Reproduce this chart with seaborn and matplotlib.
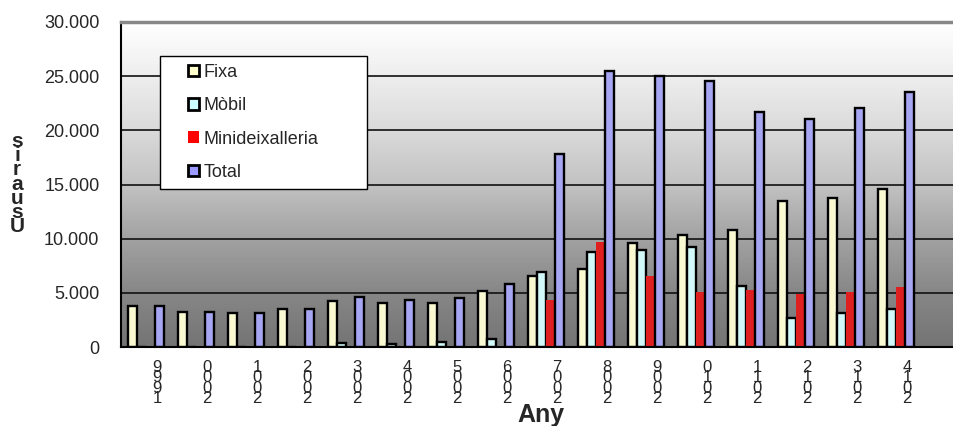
import numpy as np
import pandas as pd
import matplotlib
matplotlib.use("Agg")
import matplotlib.pyplot as plt
import seaborn as sns
from matplotlib.colors import LinearSegmentedColormap
from matplotlib.patches import Patch, Rectangle
from matplotlib.ticker import FuncFormatter

# Data (users per year)
years = [str(y) for y in range(1999, 2015)]
fixa = [3750, 3200, 3100, 3550, 4250, 4100, 4100, 5150, 6600, 7200, 9600, 10300, 10800, 13500, 13800, 14600]
mobil = [0, 0, 0, 0, 400, 250, 450, 700, 6900, 8750, 9000, 9200, 5600, 2700, 3100, 3500]
minideix = [0, 0, 0, 0, 0, 0, 0, 0, 4300, 9700, 6550, 5050, 5250, 4900, 5100, 5500]
total = [3750, 3200, 3100, 3550, 4650, 4300, 4550, 5800, 17800, 25500, 25000, 24550, 21700, 21050, 22050, 23500]

series = ["Fixa", "Mòbil", "Minideixalleria", "Total"]
colors = ["#FFFFCC", "#CCFFFF", "#FF0000", "#9999FF"]

df = pd.DataFrame({"Any": years, "Fixa": fixa, "Mòbil": mobil,
                   "Minideixalleria": minideix, "Total": total})
long_df = df.melt(id_vars="Any", var_name="Serie", value_name="Usuaris")

sns.set_style("white")
plt.rcParams["font.family"] = ["Liberation Sans", "DejaVu Sans"]

fig = plt.figure(figsize=(9.54, 4.26), dpi=100)
ax = fig.add_axes([121 / 954, 1 - 347 / 426, (954 - 121) / 954, (347 - 22) / 426])

sns.barplot(data=long_df, x="Any", y="Usuaris", hue="Serie", order=years,
            hue_order=series, palette=colors, width=0.72, errorbar=None,
            edgecolor="black", linewidth=1.7, legend=False, ax=ax)

# red bars have no outline
for patch in ax.containers[2]:
    patch.set_edgecolor("none")

x_right = (954 - 121) / 50 - 0.5
ax.set_xlim(-0.5, x_right)
ax.set_ylim(0, 30000)

# grey gradient background (dark at the bottom, white at the top)
bg = LinearSegmentedColormap.from_list(
    "bg", [(0.0, "#747474"), (1 / 6, "#878787"), (2 / 6, "#a2a2a2"),
           (3 / 6, "#c2c2c2"), (4 / 6, "#dadada"), (5 / 6, "#eeeeee"), (1.0, "#ffffff")])
ax.imshow(np.linspace(0, 1, 256).reshape(-1, 1), cmap=bg, origin="lower",
          extent=[-0.5, x_right, 0, 30000], aspect="auto", zorder=0)

ax.set_axisbelow(True)
ax.yaxis.grid(True, color="#111111", linewidth=1.2)
ax.set_yticks(range(0, 30001, 5000))
ax.yaxis.set_major_formatter(FuncFormatter(lambda v, p: f"{int(v):,}".replace(",", ".")))

ax.set_xticks(np.arange(-0.5, 16, 1))
ax.set_xticklabels([])
ax.set_xticks(np.arange(16) + 0.22, minor=True)
ax.set_xticklabels(["\n".join(reversed(y)) for y in years], minor=True,
                   linespacing=0.63, va="top", fontsize=12)
ax.tick_params(axis="x", which="major", direction="out", length=6, width=1, color="black")
ax.tick_params(axis="x", which="minor", length=0, pad=9)
ax.tick_params(axis="y", direction="inout", length=7, width=1.2, color="black",
               labelsize=13, pad=12)

for s in ["left", "bottom"]:
    ax.spines[s].set_color("black")
    ax.spines[s].set_linewidth(1.5)
ax.spines["top"].set_color("#888888")
ax.spines["top"].set_linewidth(2.5)
ax.spines["right"].set_visible(False)

ax.set_xlabel("")
ax.set_ylabel("")
fig.text(541 / 954, 1 - 415 / 426, "Any", ha="center", va="center",
         fontsize=18, fontweight="bold")
fig.text(17 / 954, 1 - 184 / 426, "\n".join(reversed("Usuaris")), ha="center",
         va="center", fontsize=15, fontweight="bold", linespacing=0.68)

# legend box
fig.patches.append(Rectangle((160 / 954, 1 - 189 / 426), 207 / 954, 133 / 426,
                             transform=fig.transFigure, facecolor="white",
                             edgecolor="black", linewidth=1, zorder=3))
handles = [Patch(facecolor=c, edgecolor="black" if c != "#FF0000" else "none", linewidth=2)
           for c in colors]
fig.legend(handles, series, loc="upper left", bbox_to_anchor=(188 / 954, 1 - 64 / 426),
           frameon=False, borderpad=0, borderaxespad=0, handlelength=0.6,
           handleheight=0.6, handletextpad=0.25, labelspacing=0.9, fontsize=13)

fig.savefig("out.png", dpi=100)
